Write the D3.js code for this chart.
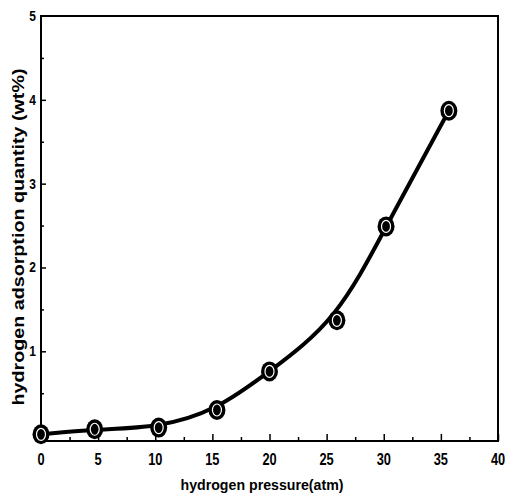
<!DOCTYPE html>
<html>
<head>
<meta charset="utf-8">
<script src="https://cdn.jsdelivr.net/npm/d3@7"></script>
<style>
  body { margin: 0; background: #fff; }
  text { font-family: "Liberation Sans", Arial, sans-serif; font-weight: bold; fill: #000; }
</style>
</head>
<body>
<div id="chart"></div>
<script>
(function(){

	// data
	var pressure = [0, 4.7, 10.3, 15.4, 20.0, 25.9, 30.2, 35.7];
	var adsorption = [0.01, 0.07, 0.09, 0.30, 0.76, 1.37, 2.49, 3.87];
	var xTicks = [0, 5, 10, 15, 20, 25, 30, 35, 40];
	var yTicks = [1, 2, 3, 4, 5];
	var xTitle = 'hydrogen pressure(atm)';
	var yTitle = 'hydrogen adsorption quantity (wt%)';

	var width = 507, height = 496;
	var left = 41, right = 498, top = 16, bottom = 441;

	var svg = d3.select('#chart')
		.append('svg')
		.attr('width', width)
		.attr('height', height);

	var x = d3.scaleLinear().domain([0, 40]).range([left, right]);
	var y = d3.scaleLinear().domain([-0.07, 5]).range([bottom, top]);

	// frame
	svg.append('rect')
		.attr('x', left).attr('y', top)
		.attr('width', right - left).attr('height', bottom - top)
		.attr('fill', 'none').attr('stroke', '#000').attr('stroke-width', 2);

	// x axis, ticks pointing in
	var xAxis = svg.append('g')
		.attr('transform', 'translate(0,' + bottom + ')')
		.call(d3.axisBottom(x).tickValues(d3.range(0, 40.1, 2.5)).tickSize(-4).tickFormat(''));
	xAxis.selectAll('line').attr('stroke', '#000').attr('stroke-width', 1.5)
		.filter(function (d) { return d % 5 === 0; }).attr('y2', -7);
	xAxis.select('.domain').remove();

	svg.selectAll('.xlab')
		.data(xTicks)
		.enter()
		.append('text')
		.attr('class', 'xlab')
		.attr('transform', function (d) { return 'translate(' + x(d) + ',465) scale(0.8,1)'; })
		.attr('text-anchor', 'middle')
		.attr('font-size', 16)
		.text(function (d) { return d; });

	// y axis
	var yAxis = svg.append('g')
		.attr('transform', 'translate(' + left + ',0)')
		.call(d3.axisLeft(y).tickValues(d3.range(0.5, 5, 0.5)).tickSize(-3).tickFormat(''));
	yAxis.selectAll('line').attr('stroke', '#000').attr('stroke-width', 1.5)
		.filter(function (d) { return Math.abs(d % 1) < 1e-9; }).attr('x2', 5);
	yAxis.select('.domain').remove();

	svg.selectAll('.ylab')
		.data(yTicks)
		.enter()
		.append('text')
		.attr('class', 'ylab')
		.attr('transform', function (d) { return 'translate(36,' + (y(d) + 5) + ') scale(0.8,1)'; })
		.attr('text-anchor', 'end')
		.attr('font-size', 15)
		.text(function (d) { return d; });

	// titles
	svg.append('text')
		.attr('x', 262).attr('y', 490)
		.attr('text-anchor', 'middle')
		.attr('font-size', 15)
		.attr('textLength', 163).attr('lengthAdjust', 'spacingAndGlyphs')
		.text(xTitle);

	svg.append('text')
		.attr('transform', 'translate(24,237) rotate(-90)')
		.attr('text-anchor', 'middle')
		.attr('font-size', 16)
		.attr('textLength', 337).attr('lengthAdjust', 'spacingAndGlyphs')
		.text(yTitle);

	// fitted curve (smoothed through the points)
	var points = pressure.map(function (p, i) { return [p, adsorption[i]]; });
	var line = d3.line()
		.x(function (d) { return x(d[0]); })
		.y(function (d) { return y(d[1]); })
		.curve(d3.curveBasis);

	svg.append('path')
		.datum(points)
		.attr('d', line)
		.attr('fill', 'none')
		.attr('stroke', '#000')
		.attr('stroke-width', 4);

	// markers: black oval with a thin white ring
	var marks = svg.selectAll('.mark')
		.data(points)
		.enter()
		.append('g')
		.attr('class', 'mark')
		.attr('transform', function (d) { return 'translate(' + x(d[0]) + ',' + y(d[1]) + ')'; });
	marks.append('ellipse').attr('rx', 8.5).attr('ry', 10).attr('fill', '#000');
	marks.append('ellipse').attr('rx', 4.5).attr('ry', 6).attr('fill', 'none')
		.attr('stroke', '#fff').attr('stroke-width', 1.2);

}());
</script>
</body>
</html>
